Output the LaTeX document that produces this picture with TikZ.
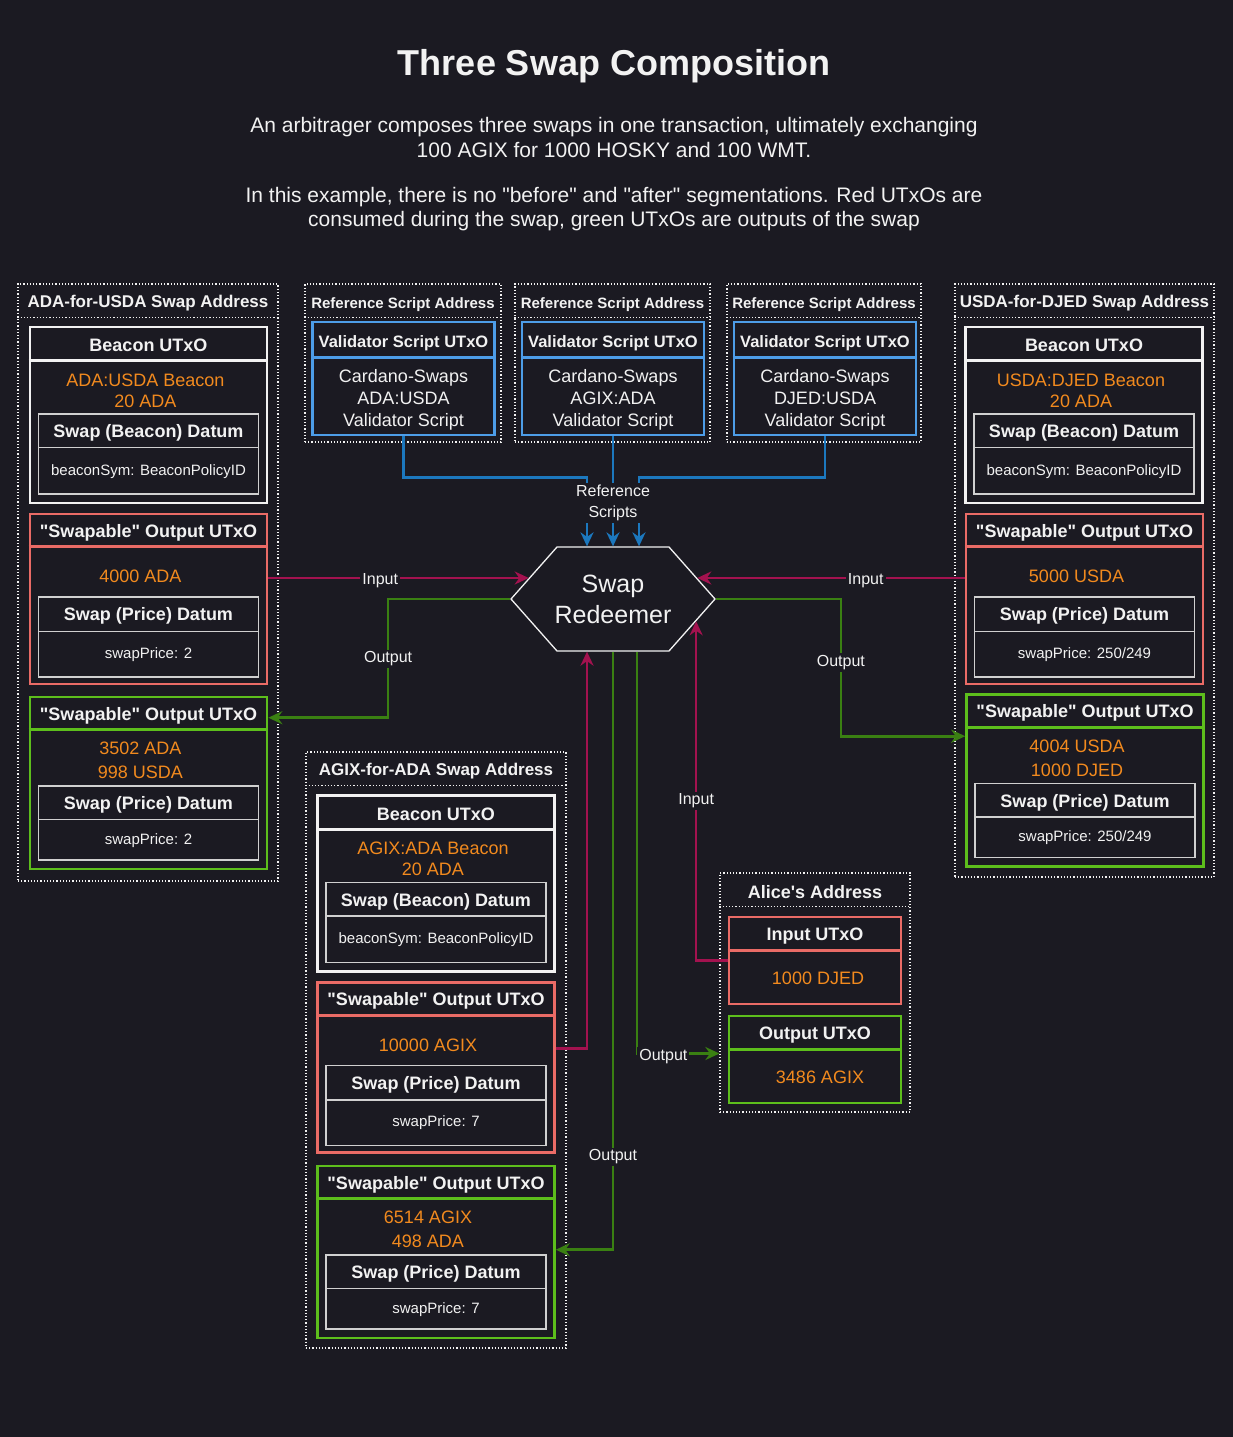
\documentclass[tikz,border=0pt]{standalone}
\usepackage{fontspec}
\setmainfont{Liberation Sans}[Ligatures=TeXOff]
\usetikzlibrary{shapes.symbols, arrows.meta, calc}
\definecolor{bgDark}{HTML}{1B1A22}
\definecolor{txtWhite}{HTML}{F2F2F2}
\definecolor{boxGrey}{HTML}{D0D0D0}
\definecolor{utxoRed}{HTML}{EA6B66}
\definecolor{utxoGreen}{HTML}{5DBE1C}
\definecolor{utxoBlue}{HTML}{4D9DE8}
\definecolor{amtOrange}{HTML}{F28A1E}
\definecolor{lineRed}{HTML}{A3124F}
\definecolor{lineGreen}{HTML}{3A8012}
\definecolor{lineBlue}{HTML}{1C78BE}

\begin{document}
\begin{tikzpicture}[x=1pt, y=-1pt,
    every node/.style={text=txtWhite},
    addr/.style={draw=txtWhite, dotted, line width=1.2pt},
    beacon/.style={draw=txtWhite, line width=2.6pt, minimum width=237, minimum height=176},
    datum/.style={draw=boxGrey, line width=1.4pt, minimum width=220, minimum height=80},
    spent/.style={draw=utxoRed, line width=2.6pt, minimum width=237, minimum height=170},
    made/.style={draw=utxoGreen, line width=2.6pt, minimum width=237, minimum height=172},
    script/.style={draw=utxoBlue, line width=2.6pt, minimum width=182, minimum height=113},
    head/.style={yshift=-3, font=\fontsize{18}{21}\selectfont\bfseries},
    small/.style={yshift=-3, font=\fontsize{15}{18}\selectfont},
    amt/.style={yshift=-3, text=amtOrange, align=center, font=\fontsize{18}{24}\selectfont},
    lbl/.style={yshift=-3, fill=bgDark, inner sep=2pt, align=center, font=\fontsize{16}{21}\selectfont},
    inarrow/.style={draw=lineRed, line width=2.6pt, -{Stealth[length=14pt, width=13pt]}},
    outarrow/.style={draw=lineGreen, line width=2.6pt, -{Stealth[length=14pt, width=13pt]}},
    refarrow/.style={draw=lineBlue, line width=2.6pt, -{Stealth[length=14pt, width=13pt]}}
  ]
    \fill[bgDark] (0,0) rectangle (1233,1437);

    % Title and intro
    \node[font=\fontsize{36}{40}\selectfont\bfseries] (title) at (614,66) {Three Swap Composition};
    \node[align=center, font=\fontsize{21}{25}\selectfont] (intro) at (614,137)
        {An arbitrager composes three swaps in one transaction, ultimately exchanging\\100 AGIX for 1000 HOSKY and 100 WMT.};
    \node[align=center, font=\fontsize{21}{24}\selectfont] (note) at (614,209)
        {In this example, there is no "before" and "after" segmentations. Red UTxOs are\\consumed during the swap, green UTxOs are outputs of the swap};

    % Address boxes
    \foreach \n/\x/\y/\w/\h in {adaAddr/148/582.5/260/597, djedAddr/1084.5/580.5/259/593, agixAddr/436/1050/260/596,
            refAda/403/363/196/158, refAgix/612.5/363/195/158, refDjed/824/363/194/158, aliceAddr/815/992.5/190/239} {
        \node[addr, minimum width=\w, minimum height=\h] (\n) at (\x,\y) {};
        \draw[addr] ([yshift=-34]\n.north west) -- ([yshift=-34]\n.north east);
    }
    \node[head, font=\fontsize{17}{20}\selectfont\bfseries] (adaAddr-head) at ([yshift=-17]adaAddr.north) {ADA-for-USDA Swap Address};
    \node[head, font=\fontsize{17}{20}\selectfont\bfseries] (djedAddr-head) at ([yshift=-17]djedAddr.north) {USDA-for-DJED Swap Address};
    \node[head, font=\fontsize{17}{20}\selectfont\bfseries] (agixAddr-head) at ([yshift=-17]agixAddr.north) {AGIX-for-ADA Swap Address};
    \node[head] (aliceAddr-head) at ([yshift=-17]aliceAddr.north) {Alice's Address};
    \foreach \n in {refAda, refAgix, refDjed}
        \node[head, font=\fontsize{15}{18}\selectfont\bfseries] (\n-head) at ([yshift=-18]\n.north) {Reference Script Address};

    % Beacon UTxOs
    \foreach \n/\x/\y/\a in {adaBcn/148.5/415/ADA:USDA, djedBcn/1084/415/USDA:DJED, agixBcn/436/883.5/AGIX:ADA} {
        \node[beacon] (\n) at (\x,\y) {};
        \draw[beacon] ([yshift=-35]\n.north west) -- ([yshift=-35]\n.north east);
        \node[head] (\n-title) at ([yshift=-17]\n.north) {Beacon UTxO};
        \node[amt, font=\fontsize{18}{21}\selectfont] (\n-amt) at ([xshift=-3, yshift=-62]\n.north) {\a{} Beacon\\20 ADA};
        \node[datum] (\n-dat) at ([yshift=-39]\n.center) {};
        \draw[datum] ([yshift=-34]\n-dat.north west) -- ([yshift=-34]\n-dat.north east);
        \node[head] (\n-datTitle) at ([yshift=-17]\n-dat.north) {Swap (Beacon) Datum};
        \node[small] (\n-datVal) at ([yshift=-55]\n-dat.north) {beaconSym: BeaconPolicyID};
    }

    % Swapable UTxOs consumed
    \foreach \n/\x/\y/\a/\p in {adaRed/148.5/599/4000 ADA/2, djedRed/1084.5/599/5000 USDA/{250/249}, agixRed/436/1067.5/10000 AGIX/7} {
        \node[spent] (\n) at (\x,\y) {};
        \draw[spent] ([yshift=-34]\n.north west) -- ([yshift=-34]\n.north east);
        \node[head] (\n-title) at ([yshift=-17]\n.north) {"Swapable" Output UTxO};
        \node[amt] (\n-amt) at ([xshift=-8, yshift=-61]\n.north) {\a};
        \node[datum] (\n-dat) at ([yshift=-38]\n.center) {};
        \draw[datum] ([yshift=-35]\n-dat.north west) -- ([yshift=-35]\n-dat.north east);
        \node[head] (\n-datTitle) at ([yshift=-17]\n-dat.north) {Swap (Price) Datum};
        \node[small] (\n-datVal) at ([yshift=-55]\n-dat.north) {swapPrice: \p};
    }

    % Swapable UTxOs created
    \foreach \n/\x/\y/\a/\b/\p in {adaGrn/148.5/783/3502 ADA/998 USDA/2, djedGrn/1085/780.5/4004 USDA/1000 DJED/{250/249}, agixGrn/436/1252/6514 AGIX/498 ADA/7} {
        \node[made] (\n) at (\x,\y) {};
        \draw[made] ([yshift=-34]\n.north west) -- ([yshift=-34]\n.north east);
        \node[head] (\n-title) at ([yshift=-17]\n.north) {"Swapable" Output UTxO};
        \node[amt] (\n-amt) at ([xshift=-8, yshift=-62]\n.north) {\a\\\b};
        \node[datum, minimum height=74] (\n-dat) at ([yshift=-40]\n.center) {};
        \draw[datum] ([yshift=-34]\n-dat.north west) -- ([yshift=-34]\n-dat.north east);
        \node[head] (\n-datTitle) at ([yshift=-17]\n-dat.north) {Swap (Price) Datum};
        \node[small] (\n-datVal) at ([yshift=-52]\n-dat.north) {swapPrice: \p};
    }

    % Reference scripts
    \foreach \n/\x/\p in {valAda/403.5/ADA:USDA, valAgix/613/AGIX:ADA, valDjed/825/DJED:USDA} {
        \node[script] (\n) at (\x,378.5) {};
        \draw[script] ([yshift=-37]\n.north west) -- ([yshift=-37]\n.north east);
        \node[font=\fontsize{16.5}{20}\selectfont\bfseries] (\n-title) at ([yshift=-23]\n.north) {Validator Script UTxO};
        \node[align=center, font=\fontsize{18}{22}\selectfont] (\n-body) at ([yshift=-79]\n.north) {Cardano-Swaps\\\p\\Validator Script};
    }

    % Alice
    \node[spent, minimum width=172, minimum height=87] (aliceIn) at (815,960.5) {};
    \draw[spent] ([yshift=-35]aliceIn.north west) -- ([yshift=-35]aliceIn.north east);
    \node[head] (aliceIn-title) at ([yshift=-17]aliceIn.north) {Input UTxO};
    \node[amt] (aliceIn-amt) at ([xshift=3, yshift=-60]aliceIn.north) {1000 DJED};
    \node[made, minimum width=172, minimum height=87] (aliceOut) at (815,1059.5) {};
    \draw[made] ([yshift=-35]aliceOut.north west) -- ([yshift=-35]aliceOut.north east);
    \node[head] (aliceOut-title) at ([yshift=-17]aliceOut.north) {Output UTxO};
    \node[amt] (aliceOut-amt) at ([xshift=5, yshift=-60]aliceOut.north) {3486 AGIX};

    % Redeemer
    \node[signal, signal to=east and west, signal pointer angle=97, draw=txtWhite, line width=1.3pt,
          inner sep=0pt, minimum width=204, minimum height=104] (redeemer) at (613,599) {};
    \node[align=center, font=\fontsize{25}{31}\selectfont] (redeemer-text) at (redeemer.center) {Swap\\Redeemer};

    % Connectors
    \draw[refarrow] (valAda.south) -- ++(0,41) -| ([xshift=-26]redeemer.north);
    \draw[refarrow] (valDjed.south) -- ++(0,41) -| ([xshift=26]redeemer.north);
    \draw[refarrow] (valAgix.south) -- (redeemer.north) node[lbl, pos=0.58] {Reference\\Scripts};

    \draw[inarrow] (adaRed.east |- redeemer.166) -- (redeemer.166) node[lbl, pos=0.43] {Input};
    \draw[inarrow] (djedRed.west |- redeemer.14) -- (redeemer.14) node[lbl, pos=0.37] {Input};
    \draw[inarrow] ([yshift=-67]agixRed.north east) -| ([xshift=-26]redeemer.south);
    \draw[inarrow] (aliceIn.west) -| (redeemer.-15) node[lbl, pos=0.74] {Input};

    \draw[outarrow] (redeemer.west) -- ++(-122,0) |- ([yshift=-22]adaGrn.north east) node[lbl, pos=0.24] {Output};
    \draw[outarrow] (redeemer.east) -- ++(125,0) |- ([yshift=-43]djedGrn.north west) node[lbl, pos=0.22] {Output};
    \draw[outarrow] (redeemer.south) |- ([yshift=-85]agixGrn.north east) node[lbl, pos=0.42] {Output};
    \draw[outarrow] ([xshift=24]redeemer.south) |- ($(aliceOut.west -| aliceAddr.west)+(0,-6)$) node[lbl, pos=0.66] {Output};
\end{tikzpicture}
\end{document}
